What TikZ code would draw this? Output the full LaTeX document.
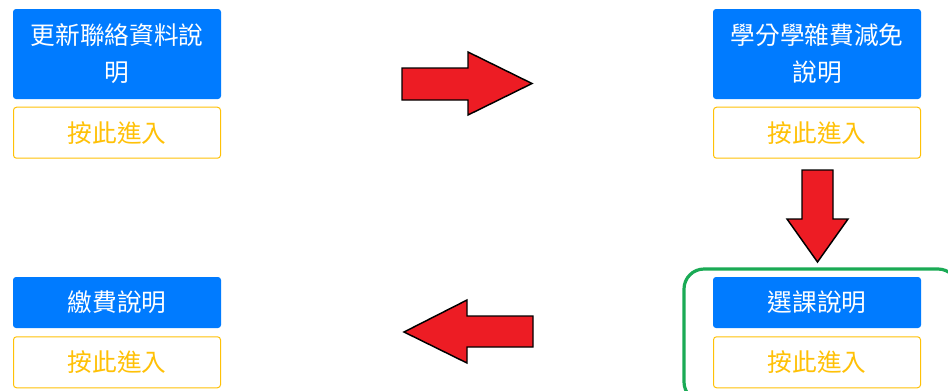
\documentclass[tikz,border=0pt]{standalone}
\usepackage{fontspec}
\setmainfont{Noto Sans CJK TC}
\usetikzlibrary{positioning}
\definecolor{btnblue}{HTML}{007BFF}
\definecolor{btnyellow}{HTML}{FFC107}
\definecolor{arrowred}{HTML}{ED1C24}
\definecolor{markgreen}{HTML}{1AAA55}

\begin{document}
\begin{tikzpicture}[
    x=0.75pt, y=-0.75pt,
    title/.style={rectangle, fill=btnblue, text=white, rounded corners=2.25pt, minimum width=156pt, minimum height=38.25pt, inner sep=0pt, align=center, font=\fontsize{18.5}{27.75}\selectfont},
    enter/.style={rectangle, draw=btnyellow, line width=0.75pt, fill=white, text=btnyellow, rounded corners=2.25pt, minimum width=155.25pt, minimum height=38.25pt, inner sep=0pt, font=\fontsize{18.5}{27.75}\selectfont},
    bigarrow/.style={fill=arrowred, draw=black, line width=1.1pt, line join=miter}
]
\useasboundingbox (0,0) rectangle (948,390);

% --- Top row ---
\node[title, minimum height=67.5pt] (update) at (117,54) {更新聯絡資料說\\明};
\node[enter, below=5.6pt of update] (updatego) {按此進入};

\node[title, minimum height=67.5pt] (waiver) at (817,54) {學分學雜費減免\\說明};
\node[enter, below=5.6pt of waiver] (waivergo) {按此進入};

% --- Bottom row ---
\node[title] (pay) at (117,302.5) {繳費說明};
\node[enter, below=6pt of pay] (paygo) {按此進入};

\node[title] (course) at (817,302.5) {選課說明};
\node[enter, below=6pt of course] (coursego) {按此進入};

% --- Highlight frame ---
\draw[markgreen, line width=2.4pt, rounded corners=15pt] (684,269) rectangle (958,402);

% --- Block arrows ---
\filldraw[bigarrow] (402,68) -- (468,68) -- (468,52) -- (532,83.5) -- (468,115) -- (468,100) -- (402,100) -- cycle;
\filldraw[bigarrow] (802,170) -- (833,170) -- (833,219) -- (848,219) -- (817.5,262) -- (787,219) -- (802,219) -- cycle;
\filldraw[bigarrow] (533,316) -- (467,316) -- (467,300) -- (404,332) -- (467,363) -- (467,347) -- (533,347) -- cycle;

\end{tikzpicture}
\end{document}
